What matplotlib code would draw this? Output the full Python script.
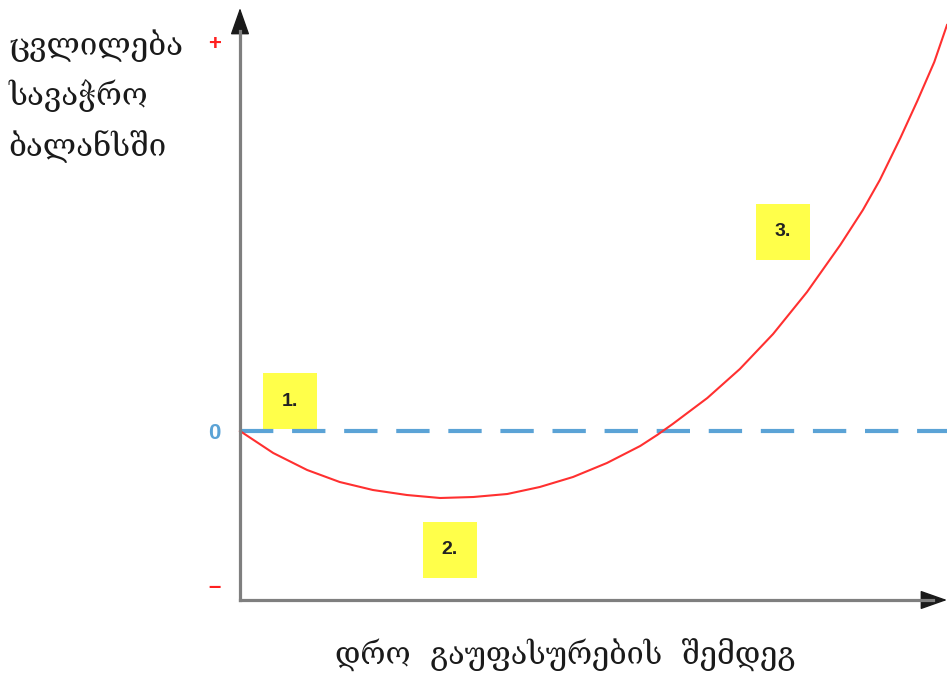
import matplotlib
matplotlib.use('Agg')
import matplotlib.pyplot as plt

# J-curve: trade balance change after devaluation
time_pts = [0.00, 0.47, 0.95, 1.41, 1.88, 2.36, 2.83, 3.30, 3.78, 4.24, 4.71,
            5.19, 5.66, 5.90, 6.12, 6.61, 7.07, 7.54, 8.02, 8.49, 8.81, 9.05,
            9.34, 9.58, 9.82, 10.00]
balance = [0.00, -0.22, -0.39, -0.51, -0.59, -0.64, -0.67, -0.66, -0.63, -0.56, -0.46,
           -0.32, -0.15, -0.04, 0.07, 0.33, 0.62, 0.97, 1.39, 1.86, 2.21, 2.51,
           2.93, 3.30, 3.69, 4.06]

ytick_pos = [3.89, 0.0, -1.54]
ytick_labels = ['+', '0', '–']
ytick_colors = ['#ff2020', '#5ba3d6', '#ff2020']

stage_labels = ['1.', '2.', '3.']
stage_t = [0.71, 2.97, 7.68]
stage_v = [0.30, -1.19, 1.99]

ylabel = 'ცვლილება\nსავაჭრო\nბალანსში'
xlabel = 'დრო  გაუფასურების  შემდეგ'

geo_font = ['DejaVu Serif', 'DejaVu Sans']

W, H = 947, 673
fig = plt.figure(figsize=(W / 100, H / 100), dpi=100)
ax = fig.add_axes([240 / W, 73 / H, 707 / W, 600 / H])
ax.set_xlim(0, 10)
ax.set_ylim(-1.69, 4.31)

# zero line and curve
ax.axhline(0, color='#5ba3d6', lw=3, dashes=(8, 4.5), zorder=2)
ax.plot(time_pts, balance, color='#ff3030', lw=1.5, zorder=3, clip_on=False)

# axes as arrows
for s in ['top', 'right']:
    ax.spines[s].set_visible(False)
for s in ['left', 'bottom']:
    ax.spines[s].set_color('#7f7f7f')
    ax.spines[s].set_linewidth(2.3)
    ax.spines[s].set_zorder(4)
ax.spines['left'].set_bounds(-1.69, 4.0)
ax.spines['bottom'].set_bounds(0, 9.8)
head = dict(arrowstyle='-|>,head_length=0.85,head_width=0.3', mutation_scale=20,
            color='#1a1a1a', lw=1, shrinkA=0, shrinkB=0)
ax.annotate('', xy=(0, 4.23), xytext=(0, 3.95), arrowprops=head, annotation_clip=False)
ax.annotate('', xy=(10, -1.69), xytext=(9.7, -1.69), arrowprops=head, annotation_clip=False)

ax.set_xticks([])
ax.set_yticks(ytick_pos)
ax.set_yticklabels(ytick_labels)
ax.tick_params(axis='y', length=0, pad=14)
for lab, c in zip(ax.get_yticklabels(), ytick_colors):
    lab.set_color(c)
    lab.set_fontfamily('Liberation Sans')
    lab.set_fontweight('bold')
    lab.set_fontsize(16)

# stage boxes
for lbl, t, v in zip(stage_labels, stage_t, stage_v):
    ax.text(t, v, lbl, ha='center', va='center', fontsize=14, fontweight='bold',
            family='Liberation Sans', color='#222222', zorder=1,
            bbox=dict(boxstyle='square,pad=0.98', fc='#ffff4a', ec='none'))

fig.text(8 / W, 1 - 29 / H, ylabel, ha='left', va='top', fontsize=22.5,
         family=geo_font, linespacing=1.68, color='#1a1a1a')
fig.text(565 / W, 1 - 655 / H, xlabel, ha='center', va='center', fontsize=22,
         family=geo_font, color='#1a1a1a')

fig.savefig('out.png', dpi=100)
